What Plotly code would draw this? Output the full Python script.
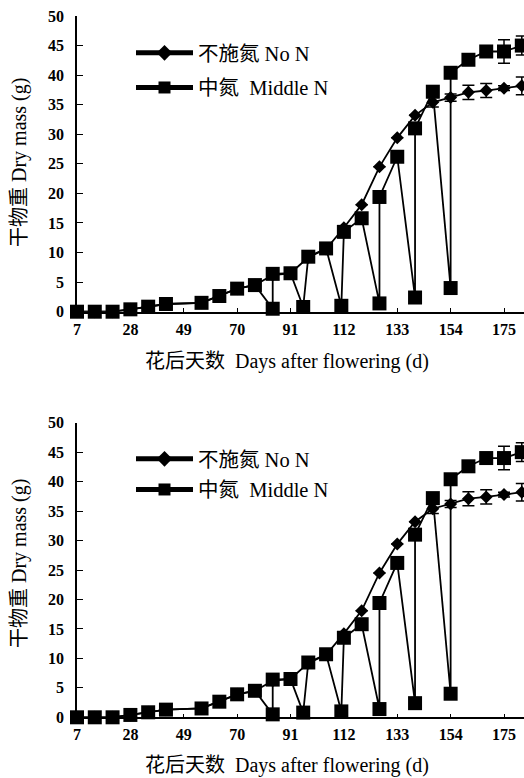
import plotly.graph_objects as go

# ---- data ----
days_no_n = [7, 14, 21, 28, 35, 42, 56, 63, 70, 77, 84, 91, 98, 105, 112, 119, 126,
             133, 140, 147, 154, 161, 168, 175, 182]
dry_no_n = [0, 0, 0, 0.4, 0.85, 1.3, 1.5, 2.65, 3.9, 4.5, 6.2, 6.5, 9.2, 10.6, 14.2,
            18.1, 24.5, 29.4, 33.2, 35.4, 36.2, 37.1, 37.4, 37.8, 38.2]
err_no_n = [0, 0, 0, 0, 0, 0, 0, 0, 0, 0, 0, 0, 0, 0, 0, 0, 0, 0, 0, 0.8, 0.6, 1.2,
            1.2, 0.4, 1.5]

days_mid_n = [7, 14, 21, 28, 35, 42, 56, 63, 70, 77, 84, 84, 91, 96, 98, 105, 111, 112,
              119, 126, 126, 133, 140, 140, 147, 154, 154, 161, 168, 175, 182]
dry_mid_n = [0, 0, 0, 0.4, 0.85, 1.3, 1.5, 2.65, 3.9, 4.5, 0.5, 6.4, 6.5, 0.8, 9.3,
             10.7, 1.0, 13.5, 15.8, 1.4, 19.4, 26.2, 2.4, 31.0, 37.2, 4.0, 40.4, 42.6,
             44.0, 44.0, 45.0]
err_mid_n = [0] * 27 + [0.6, 0.8, 2.0, 1.6]

x_ticks = [7, 28, 49, 70, 91, 112, 133, 154, 175]
y_ticks = [0, 5, 10, 15, 20, 25, 30, 35, 40, 45, 50]

name_no_n = "不施氮 No N"
name_mid_n = "中氮  Middle N"
x_title = "花后天数  Days after flowering (d)"
y_title = "干物重 Dry mass (g)"

# ---- figure ----
W, H = 524, 778
L = 77
FONT = "Liberation Serif, Times New Roman, Noto Sans CJK SC, serif"

fig = go.Figure()

panels = [
    # (xaxis, yaxis, legend, y-domain px top, px bottom, legend top px, gap, xtitle y px, ytitle y px)
    ("x", "y", "legend", 16, 311.7, 33, 5, 361, 163),
    ("x2", "y2", "legend2", 422.7, 717.3, 439, 1, 765, 564),
]

def px_y(p):
    return 1 - p / H

def px_x(p):
    return (p - L) / (W - L)

for i, (xa, ya, lg, ytop, ybot, lgy, gap, xty, yty) in enumerate(panels):
    fig.add_trace(go.Scatter(
        x=days_no_n, y=dry_no_n, name=name_no_n, mode="lines+markers",
        xaxis=xa, yaxis=ya, legend=lg, legendgroup=f"a{i}",
        line=dict(color="black", width=1.8),
        marker=dict(symbol="diamond", size=10, color="black"),
        error_y=dict(type="data", array=err_no_n, color="black", thickness=1.5, width=6),
        cliponaxis=False,
    ))
    fig.add_trace(go.Scatter(
        x=days_mid_n, y=dry_mid_n, name=name_mid_n, mode="lines+markers",
        xaxis=xa, yaxis=ya, legend=lg, legendgroup=f"b{i}",
        line=dict(color="black", width=1.8),
        marker=dict(symbol="square", size=14, color="black"),
        error_y=dict(type="data", array=err_mid_n, color="black", thickness=1.5, width=6),
        cliponaxis=False,
    ))
    axis_common = dict(
        showgrid=False, zeroline=False, showline=True, linecolor="black", linewidth=1.5,
        ticks="inside", tickcolor="black", tickwidth=1.2, automargin=False,
        tickfont=dict(family=FONT, size=16, color="black", weight="bold"),
    )
    xkey = "xaxis" if xa == "x" else "xaxis2"
    ykey = "yaxis" if ya == "y" else "yaxis2"
    fig.update_layout(**{
        xkey: dict(axis_common, range=[7, 7 + (W - L) / 2.5417], domain=[0, 1],
                   tickvals=x_ticks, ticklen=4, anchor=ya, ticklabelstandoff=2),
        ykey: dict(axis_common, range=[0, 50], domain=[px_y(ybot), px_y(ytop)],
                   tickvals=y_ticks, ticklen=6, anchor=xa, ticklabelstandoff=8),
        lg: dict(x=px_x(131), y=px_y(lgy), xanchor="left", yanchor="top",
                 font=dict(family=FONT, size=20.5, color="black"),
                 bgcolor="rgba(0,0,0,0)", tracegroupgap=gap, itemsizing="constant",
                 itemwidth=57, traceorder="grouped"),
    })
    fig.add_annotation(text=x_title, xref="paper", yref="paper",
                       x=px_x(287), y=px_y(xty), showarrow=False,
                       xanchor="center", yanchor="middle",
                       font=dict(family=FONT, size=20, color="black"))
    fig.add_annotation(text=y_title, xref="paper", yref="paper",
                       x=px_x(19), y=px_y(yty), showarrow=False, textangle=-90,
                       xanchor="center", yanchor="middle",
                       font=dict(family=FONT, size=20, color="black"))

fig.update_layout(
    width=W, height=H, margin=dict(l=L, r=0, t=0, b=0, autoexpand=False),
    paper_bgcolor="white", plot_bgcolor="white", showlegend=True,
)

fig.write_html("out.html")
